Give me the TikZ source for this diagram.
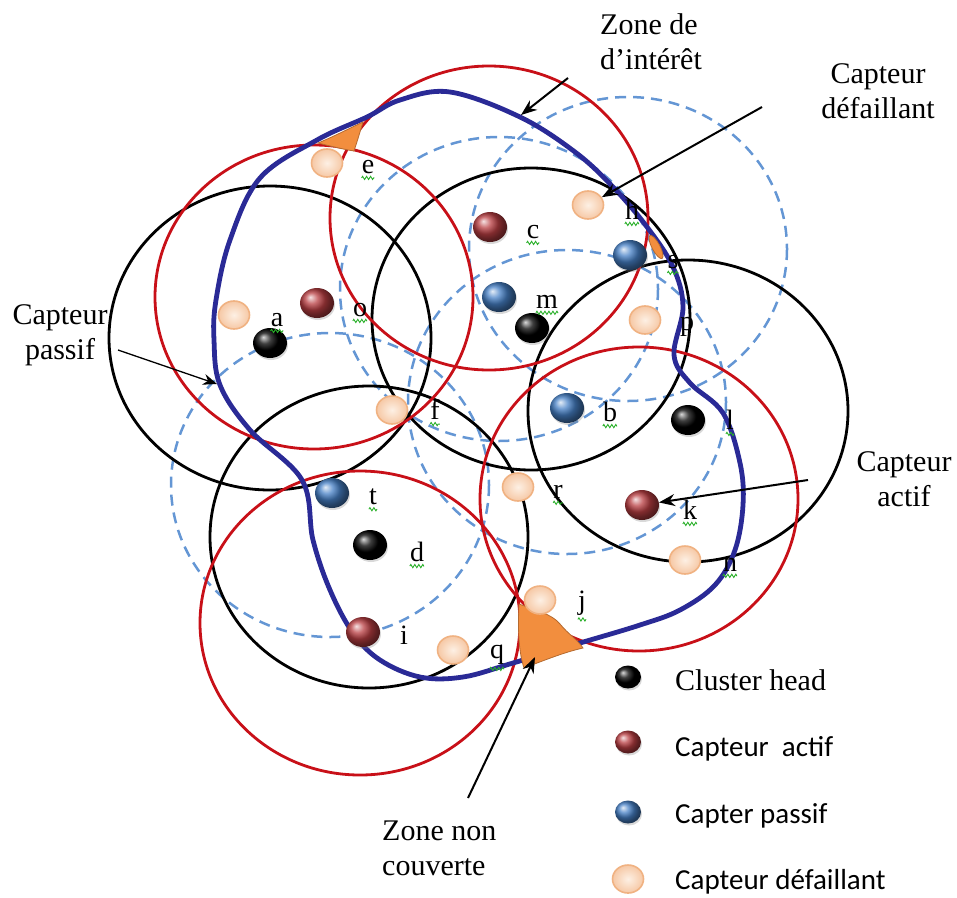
\documentclass[tikz,border=0pt]{standalone}
\usepackage{fontspec}
\setmainfont{Liberation Serif}
\newfontfamily\legsans{Carlito}
\usetikzlibrary{shapes.geometric,arrows.meta,decorations.pathmorphing,shadows}
\definecolor{rc}{RGB}{200,16,24}
\definecolor{navyc}{RGB}{42,42,150}
\definecolor{dashc}{RGB}{100,150,212}
\definecolor{orc}{RGB}{242,142,62}
\definecolor{ballred}{RGB}{185,62,66}
\definecolor{ballblue}{RGB}{70,128,198}
\definecolor{ballpeach}{RGB}{246,200,165}
\definecolor{peachin}{RGB}{253,240,228}
\definecolor{peachedge}{RGB}{240,178,130}
\definecolor{sqc}{RGB}{40,175,40}
\newcommand\squig[1]{\draw[sqc,line width=0.9pt,decorate,decoration={zigzag,segment length=4pt,amplitude=1.6pt}] ([yshift=-4pt]#1.south west) -- ([yshift=-4pt]#1.south east);}
\begin{document}
\begin{tikzpicture}[x=1pt,y=-1pt,
  blackc/.style={draw=black,line width=2.8pt},
  redc/.style={draw=rc,line width=2.8pt},
  dashcirc/.style={draw=dashc,line width=2.5pt,dash pattern=on 11pt off 7pt},
  zone/.style={draw=navyc,line width=4.8pt},
  gapzone/.style={fill=orc,draw=orc!75!black,line width=0.8pt},
  sensor/.style={ellipse,minimum width=34pt,minimum height=30pt,inner sep=0pt,drop shadow={opacity=0.3,shadow xshift=1pt,shadow yshift=-2pt}},
  chead/.style={sensor,ball color=black},
  activ/.style={sensor,ball color=ballred},
  passv/.style={sensor,ball color=ballblue},
  fail/.style={ellipse,inner sep=0pt,minimum width=31pt,minimum height=28pt,shading=radial,inner color=peachin,outer color=ballpeach,draw=peachedge,line width=1.6pt},
  lbl/.style={inner sep=0pt,font=\fontsize{28}{28}\selectfont},
  callout/.style={inner sep=0pt,font=\fontsize{30}{35}\selectfont},
  arr/.style={-{Stealth[length=16pt,width=12pt]},line width=2pt},
  thinarr/.style={-{Stealth[length=14pt,width=11pt]},line width=1.3pt},
  legtext/.style={anchor=west,inner sep=0pt,font=\legsans\fontsize{29}{29}\selectfont}
]
\useasboundingbox (0,0) rectangle (957,897);

% dashed ranges (passive sensors)
\draw[dashcirc] (628,249) ellipse [x radius=159, y radius=152];
\draw[dashcirc] (499,289) ellipse [x radius=159, y radius=152];
\draw[dashcirc] (567,402) ellipse [x radius=159, y radius=152];
\draw[dashcirc] (330,485) ellipse [x radius=159, y radius=152];
% cluster head ranges
\draw[blackc] (270,338) ellipse [x radius=161, y radius=152];
\draw[blackc] (531,319) ellipse [x radius=159, y radius=151];
\draw[blackc] (688,411) ellipse [x radius=160, y radius=151];
\draw[blackc] (369,537) ellipse [x radius=159, y radius=151];
% active sensor ranges
\draw[redc] (314,297) ellipse [x radius=159, y radius=152];
\draw[redc] (489,218) ellipse [x radius=159, y radius=152];
\draw[redc] (639,499) ellipse [x radius=159, y radius=152];
\draw[redc] (360,623) ellipse [x radius=160, y radius=152];

% zone of interest
\draw[zone] plot[smooth cycle, tension=0.6] coordinates {
 (450,92) (520,117) (575,152) (613,187) (647,227) (673,267) (683,307)
 (674,355) (690,383) (723,413) (740,463) (743,505) (735,550) (715,585)
 (680,610) (640,625) (580,643) (513,663) (463,677) (420,677) (380,660)
 (353,633) (330,590) (313,540) (302,480) (250,430) (220,385) (214,340)
 (216,300) (230,240) (260,178) (317,140) (367,117) (400,100)};

% uncovered zones
\draw[gapzone] (318,143) .. controls (335,136) and (350,128) .. (363,122)
  .. controls (360,132) and (357,142) .. (354,151) .. controls (342,149) and (330,146) .. cycle;
\draw[gapzone] (519,604) .. controls (535,610) and (552,614) .. (560,624)
  .. controls (568,634) and (578,640) .. (583,648) .. controls (565,652) and (545,660) .. (524,668)
  .. controls (518,650) and (518,625) .. cycle;
\draw[gapzone] (656,247) ellipse [x radius=4, y radius=13, rotate=28];

% sensors
\node[chead] (ca) at (270,343) {};
\node[chead] (cm) at (532,328) {};
\node[chead] (cl) at (688,420) {};
\node[chead] (cd) at (370,545) {};
\node[activ] (ao) at (317,303) {};
\node[activ] (ac) at (490,227) {};
\node[activ] (ak) at (642,505) {};
\node[activ] (ai) at (363,632) {};
\node[passv] (ph) at (630,255) {};
\node[passv] (pm) at (499,297) {};
\node[passv] (pb) at (567,408) {};
\node[passv] (pt) at (332,493) {};
\node[fail] (fe) at (327,163) {};
\node[fail] (fa) at (234,315) {};
\node[fail] (ff) at (392,410) {};
\node[fail] (fh) at (588,205) {};
\node[fail] (fp) at (645,320) {};
\node[fail] (fr) at (518,487) {};
\node[fail] (fn) at (685,560) {};
\node[fail] (fj) at (540,600) {};
\node[fail] (fq) at (453,650) {};

% letters
\node[lbl] (Le) at (368,167) {e};
\node[lbl] (Lc) at (533,232) {c};
\node[lbl] (Lh) at (632,210) {h};
\node[lbl] (Ls) at (673,262) {s};
\node[lbl] (Lm) at (547,302) {m};
\node[lbl] (La) at (277,320) {a};
\node[lbl] (Lo) at (360,310) {o};
\node[lbl] (Lf) at (435,410) {f};
\node[lbl] (Lb) at (610,412) {b};
\node[lbl] (Lp) at (687,327) {p};
\node[lbl] (Ll) at (730,420) {l};
\node[lbl] (Lr) at (558,492) {r};
\node[lbl] (Lk) at (690,510) {k};
\node[lbl] (Ln) at (730,565) {n};
\node[lbl] (Lt) at (373,497) {t};
\node[lbl] (Ld) at (417,552) {d};
\node[lbl] (Li) at (404,635) {i};
\node[lbl] (Lj) at (582,603) {j};
\node[lbl] (Lq) at (497,655) {q};
\squig{Le}\squig{Lc}\squig{Lh}\squig{Ls}\squig{Lm}\squig{La}\squig{Lo}\squig{Lf}
\squig{Lb}\squig{Ll}\squig{Lr}\squig{Lk}\squig{Ln}\squig{Lt}\squig{Ld}\squig{Lj}\squig{Lq}

% callouts
\node[callout,align=left,anchor=west] (zi) at (600,42) {Zone de\\d’intérêt};
\node[callout,align=center] (cdf) at (878,91) {Capteur\\défaillant};
\node[callout,align=center] (cps) at (60,335) {Capteur\\passif};
\node[callout,align=center] (cac) at (904,479) {Capteur\\actif};
\node[callout,align=left,anchor=west] (znc) at (382,848) {Zone non\\couverte};

\coordinate (ziS) at (568,78);
\coordinate (ziE) at (521,115);
\coordinate (cdfS) at (762,107);
\coordinate (cpsS) at (118,350);
\coordinate (cpsE) at (217,384);
\coordinate (cacS) at (808,480);
\coordinate (zncS) at (468,798);
\coordinate (zncE) at (535,657);

\draw[arr] (ziS) -- (ziE);
\draw[arr] (cdfS) -- (fh);
\draw[thinarr] (cpsS) -- (cpsE);
\draw[arr] (cacS) -- (ak);
\draw[arr] (zncS) -- (zncE);

% legend
\node[chead,minimum width=26pt,minimum height=23pt] (lg1) at (628,677) {};
\node[activ,minimum width=26pt,minimum height=23pt] (lg2) at (628,742) {};
\node[passv,minimum width=26pt,minimum height=23pt] (lg3) at (628,812) {};
\node[fail] (lg4) at (628,879) {};
\node[anchor=west,inner sep=0pt,font=\fontsize{30}{30}\selectfont] (lt1) at (675,680) {Cluster head};
\node[legtext] (lt2) at (675,749) {Capteur\ \ actif};
\node[legtext] (lt3) at (675,816) {Capter passif};
\node[legtext] (lt4) at (675,882) {Capteur défaillant};
\end{tikzpicture}
\end{document}
